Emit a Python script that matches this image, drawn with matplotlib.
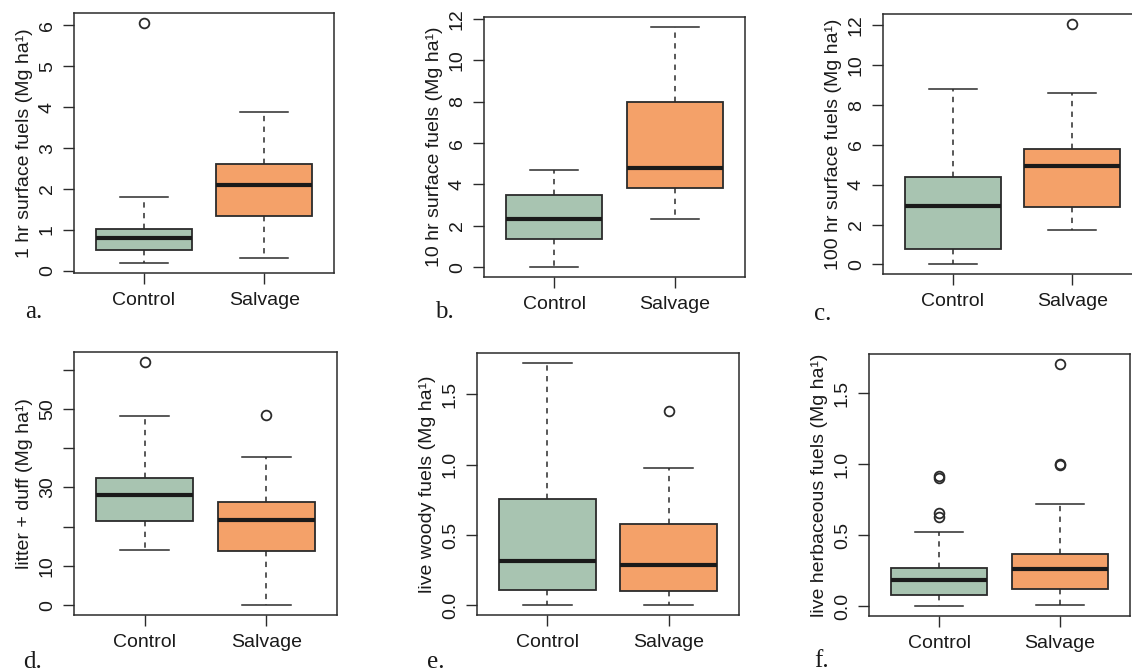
import matplotlib
matplotlib.use("Agg")
import matplotlib.pyplot as plt

plt.rcParams["font.family"] = ["Liberation Sans", "DejaVu Sans"]

# Grupos y resúmenes de cada caja: [bigote_inf, q1, mediana, q3, bigote_sup]
grupos = ["Control", "Salvage"]

a_control = [0.18, 0.50, 0.80, 1.03, 1.80]
a_control_out = [6.07]
a_salvage = [0.30, 1.35, 2.10, 2.61, 3.89]
a_salvage_out = []

b_control = [0.0, 1.38, 2.33, 3.51, 4.69]
b_control_out = []
b_salvage = [2.34, 3.85, 4.81, 7.96, 11.62]
b_salvage_out = []

c_control = [0.0, 0.75, 2.95, 4.41, 8.81]
c_control_out = []
c_salvage = [1.73, 2.89, 4.93, 5.81, 8.63]
c_salvage_out = [12.09]

d_control = [14.0, 21.4, 28.1, 32.3, 48.1]
d_control_out = [62.0]
d_salvage = [0.0, 13.7, 21.6, 26.3, 37.8]
d_salvage_out = [48.4]

e_control = [0.0, 0.106, 0.317, 0.757, 1.725]
e_control_out = []
e_salvage = [0.0, 0.10, 0.289, 0.577, 0.975]
e_salvage_out = [1.379]

f_control = [0.0, 0.078, 0.184, 0.271, 0.523]
f_control_out = [0.631, 0.655, 0.902, 0.918]
f_salvage = [0.007, 0.125, 0.261, 0.367, 0.718]
f_salvage_out = [0.995, 1.0, 1.707]

etiquetas_y = [
    "1 hr surface fuels (Mg ha¹)",
    "10 hr surface fuels (Mg ha¹)",
    "100 hr surface fuels (Mg ha¹)",
    "litter + duff (Mg ha¹)",
    "live woody fuels (Mg ha¹)",
    "live herbaceous fuels (Mg ha¹)",
]
letras = ["a.", "b.", "c.", "d.", "e.", "f."]

ticks_y = [
    [0, 1, 2, 3, 4, 5, 6],
    [0, 2, 4, 6, 8, 10, 12],
    [0, 2, 4, 6, 8, 10, 12],
    [0, 10, 20, 30, 40, 50, 60],
    [0.0, 0.5, 1.0, 1.5],
    [0.0, 0.5, 1.0, 1.5],
]
textos_y = [
    ["0", "1", "2", "3", "4", "5", "6"],
    ["0", "2", "4", "6", "8", "10", "12"],
    ["0", "2", "4", "6", "8", "10", "12"],
    ["0", "10", "", "30", "", "50", ""],
    ["0.0", "0.5", "1.0", "1.5"],
    ["0.0", "0.5", "1.0", "1.5"],
]

paneles = [
    (a_control, a_control_out, a_salvage, a_salvage_out),
    (b_control, b_control_out, b_salvage, b_salvage_out),
    (c_control, c_control_out, c_salvage, c_salvage_out),
    (d_control, d_control_out, d_salvage, d_salvage_out),
    (e_control, e_control_out, e_salvage, e_salvage_out),
    (f_control, f_control_out, f_salvage, f_salvage_out),
]

# Posiciones de los ejes en píxeles (izq, arriba, der, abajo) y de las letras
W, H = 1132, 672
cajas_px = [
    (74, 13, 334, 273),
    (484, 17, 745, 277),
    (883, 14, 1142, 274),
    (74, 352, 337, 615),
    (477, 353, 739, 615),
    (869, 354, 1130, 616),
]
letras_px = [(25, 318), (435, 318), (814, 320), (23, 668), (427, 668), (814, 667)]

COLORES = ["#a8c4b1", "#f4a169"]
GRIS = "#2b2b2b"
TAM = 14


def resumen(valores, atipicos):
    lo, q1, med, q3, hi = valores
    return {"whislo": lo, "q1": q1, "med": med, "q3": q3, "whishi": hi, "fliers": atipicos}


fig = plt.figure(figsize=(W / 100, H / 100), dpi=100)

for i, (ctrl, ctrl_out, salv, salv_out) in enumerate(paneles):
    l, t, r, b = cajas_px[i]
    ax = fig.add_axes([l / W, 1 - b / H, (r - l) / W, (b - t) / H])

    stats = [resumen(ctrl, ctrl_out), resumen(salv, salv_out)]
    res = ax.bxp(
        stats,
        positions=[1, 2],
        widths=0.8,
        patch_artist=True,
        boxprops=dict(edgecolor=GRIS, linewidth=1.3),
        medianprops=dict(color="#1a1a1a", linewidth=3.0),
        whiskerprops=dict(color=GRIS, linewidth=1.1, linestyle=(0, (3.5, 3.5))),
        capprops=dict(color=GRIS, linewidth=1.1),
        capwidths=0.4,
        flierprops=dict(marker="o", markerfacecolor="none", markeredgecolor=GRIS,
                        markersize=7, markeredgewidth=1.3),
    )
    for caja, color in zip(res["boxes"], COLORES):
        caja.set_facecolor(color)

    # límites al estilo de R: rango de los datos extendido un 4 %
    todos = ctrl + salv + ctrl_out + salv_out
    ymin, ymax = min(todos), max(todos)
    ext = 0.04 * (ymax - ymin)
    ax.set_ylim(ymin - ext, ymax + ext)
    ax.set_xlim(0.42, 2.58)

    ax.set_xticks([1, 2])
    ax.set_xticklabels(grupos, fontsize=TAM, color="#1a1a1a")
    ax.set_yticks(ticks_y[i])
    ax.set_yticklabels(textos_y[i], fontsize=TAM, rotation=90, va="center", color="#1a1a1a")
    ax.tick_params(axis="both", direction="out", length=8, width=1.0, color=GRIS, pad=6)
    ax.tick_params(axis="y", pad=5)

    for lado in ax.spines.values():
        lado.set_color(GRIS)
        lado.set_linewidth(1.1)

    ax.set_ylabel(etiquetas_y[i], fontsize=TAM, color="#1a1a1a", labelpad=4)

    lx, ly = letras_px[i]
    fig.text(lx / W, 1 - ly / H, letras[i], fontsize=18, va="baseline", ha="left",
             family=["Liberation Serif", "DejaVu Serif"], color="#1a1a1a")

fig.savefig("out.png", dpi=100)
